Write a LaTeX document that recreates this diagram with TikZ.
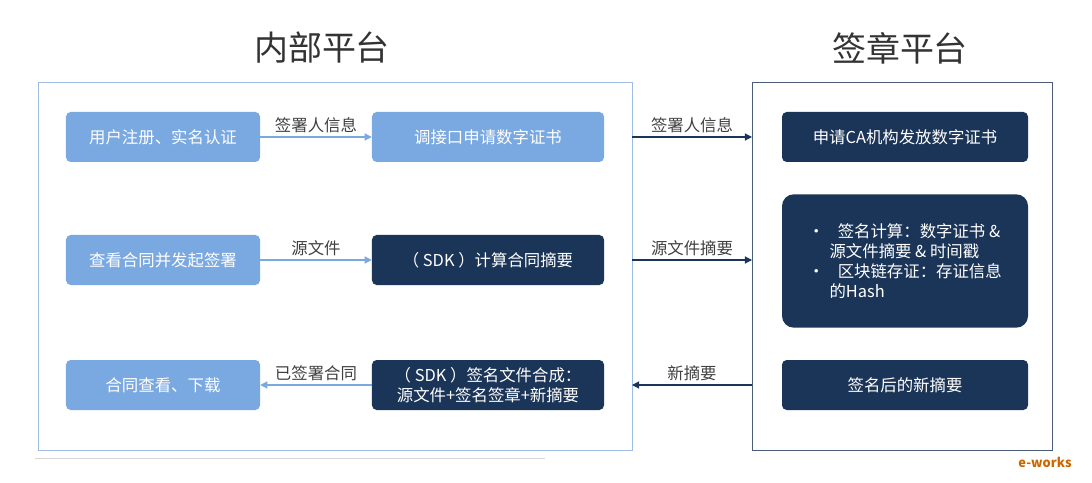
\documentclass[tikz,border=0pt]{standalone}
\usepackage{fontspec}
\setmainfont{Noto Sans CJK SC}
\usetikzlibrary{arrows.meta, positioning}
\definecolor{lightbox}{HTML}{7AA8E0}
\definecolor{darkbox}{HTML}{1B3558}
\definecolor{frameblue}{HTML}{9DBDE3}
\begin{document}
\begin{tikzpicture}[
    x=0.03cm, y=-0.03cm,
    every node/.style={font=\fontsize{14}{17}\selectfont},
    lbox/.style={rectangle, rounded corners=4pt, fill=lightbox, text=white, minimum width=5.82cm, minimum height=1.5cm, align=center},
    wbox/.style={lbox, minimum width=6.96cm},
    dbox/.style={wbox, fill=darkbox},
    rbox/.style={dbox, minimum width=7.38cm},
    larrow/.style={-{Triangle[length=6pt,width=6pt]}, lightbox, line width=1pt},
    darrow/.style={-{Triangle[length=6pt,width=6pt]}, darkbox, line width=1pt},
    label/.style={above, text=black!75, font=\fontsize{14}{17}\selectfont}
]
\useasboundingbox (0,0) rectangle (1092,483);

% Titles
\node[font=\fontsize{29}{33}\selectfont, text=black!80] (title-in) at (322,48) {内部平台};
\node[font=\fontsize{29}{33}\selectfont, text=black!80] (title-sign) at (900,48) {签章平台};

% Frames
\draw[frameblue, line width=0.8pt] (38,82) rectangle (632,450);
\draw[darkbox!80, line width=0.8pt] (752,82) rectangle (1052,450);
\draw[black!15] (35,458) -- (545,458);
\coordinate (in-r1) at (632,137);
\coordinate (in-r2) at (632,260);
\coordinate (in-r3) at (632,385);
\coordinate (sg-l1) at (752,137);
\coordinate (sg-l2) at (752,260);
\coordinate (sg-l3) at (752,385);

% Internal platform
\node[lbox] (register) at (163,137) {用户注册、实名认证};
\node[wbox] (apply) at (488,137) {调接口申请数字证书};
\node[lbox] (view) at (163,260) {查看合同并发起签署};
\node[dbox] (digest) at (488,260) {（ SDK ）计算合同摘要};
\node[lbox] (download) at (163,385) {合同查看、下载};
\node[dbox] (compose) at (488,385) {（ SDK ）签名文件合成：\\源文件+签名签章+新摘要};

% Signing platform
\node[rbox] (ca) at (905,137) {申请CA机构发放数字证书};
\node[rbox, minimum height=4cm, rounded corners=10pt, align=left] (calc) at (905,261) {•\hspace{0.8em}签名计算：数字证书 \&\\\hspace{1.3em}源文件摘要 \& 时间戳\\•\hspace{0.8em}区块链存证：存证信息\\\hspace{1.3em}的Hash};
\node[rbox] (newdig) at (905,385) {签名后的新摘要};

% Connections
\draw[larrow] (register) -- node[label] {签署人信息} (apply);
\draw[larrow] (view) -- node[label] {源文件} (digest);
\draw[larrow] (compose) -- node[label] {已签署合同} (download);
\draw[darrow] (in-r1) -- node[label] {签署人信息} (sg-l1);
\draw[darrow] (in-r2) -- node[label] {源文件摘要} (sg-l2);
\draw[darrow] (sg-l3) -- node[label] {新摘要} (in-r3);

% Watermark
\node[text=orange!80!black, font=\itshape\bfseries\fontsize{11}{12}\selectfont] (logo) at (1045,462) {e-works};
\end{tikzpicture}
\end{document}
